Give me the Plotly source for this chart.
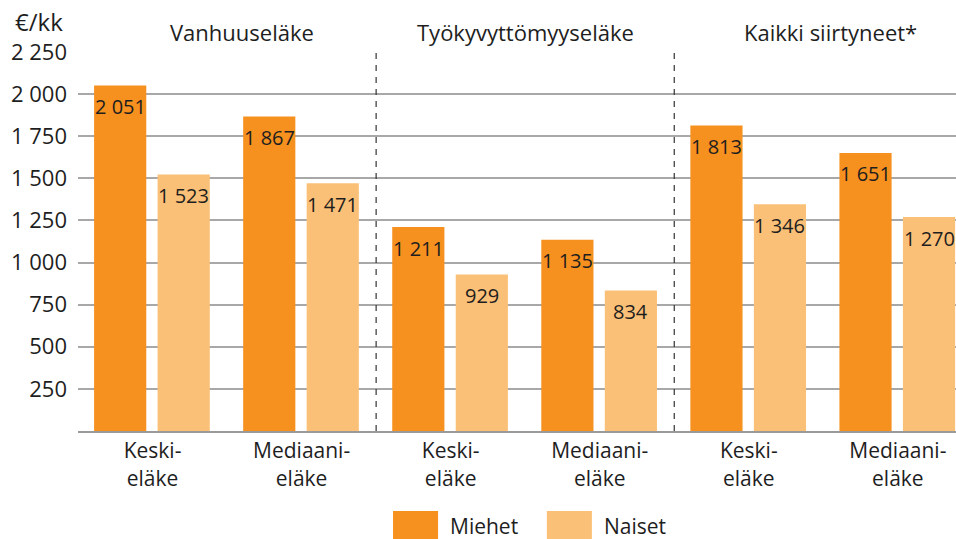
import plotly.graph_objects as go

categories = ["Keski-<br>eläke", "Mediaani-<br>eläke"] * 3
groups = ["Vanhuuseläke", "Työkyvyttömyyseläke", "Kaikki siirtyneet*"]
group_label_x = [0.6, 2.5, 4.55]
miehet = [2051, 1867, 1211, 1135, 1813, 1651]
naiset = [1523, 1471, 929, 834, 1346, 1270]
yticks = [250, 500, 750, 1000, 1250, 1500, 1750, 2000, 2250]

xpos = list(range(len(categories)))
FONT = "Open Sans"
TXT = "#1e1e1e"
C_M = "#F6901E"
C_N = "#FBC077"
BW = 0.35

fig = go.Figure()
series = [("Miehet", miehet, C_M, -0.392), ("Naiset", naiset, C_N, 0.034)]
for name, vals, col, off in series:
    fig.add_trace(go.Bar(
        x=xpos, y=vals, name=name, marker=dict(color=col, line=dict(width=0)),
        width=BW, offset=off, showlegend=False,
    ))
    for xi, v in zip(xpos, vals):
        fig.add_annotation(x=xi + off + BW / 2, y=v, xref="x", yref="y",
                           text=f"{v:,}".replace(",", " "), showarrow=False,
                           yanchor="middle", yshift=-21,
                           font=dict(family=FONT, size=20, color=TXT, weight=500))

for xs in [1.5, 3.5]:
    fig.add_shape(type="line", xref="x", yref="paper", x0=xs, x1=xs, y0=0, y1=1,
                  line=dict(color="#333333", width=1.2, dash="6px,6px"), layer="above")

for gx, g in zip(group_label_x, groups):
    fig.add_annotation(x=gx, xref="x", y=1.0, yref="paper", yshift=3,
                       text=g, showarrow=False, yanchor="bottom",
                       font=dict(family=FONT, size=22, color=TXT))

fig.add_annotation(x=-0.074, xref="paper", y=1.0, yref="paper", yshift=12,
                   text="€/kk", showarrow=False, xanchor="left", yanchor="bottom",
                   font=dict(family=FONT, size=24, color=TXT))

# legend drawn as large swatches
legend_items = [("Miehet", C_M, 0.3588), ("Naiset", C_N, 0.534)]
for name, col, lx in legend_items:
    fig.add_shape(type="rect", xref="paper", yref="paper", x0=lx, x1=lx + 0.0513,
                  y0=-0.30, y1=-0.211, fillcolor=col, line=dict(width=0))
    fig.add_annotation(x=lx + 0.0625, xref="paper", y=-0.25, yref="paper",
                       text=name, showarrow=False, xanchor="left", yanchor="middle",
                       font=dict(family=FONT, size=21, color=TXT))

fig.update_layout(
    width=956, height=539,
    margin=dict(l=78, r=0, t=52, b=108, autoexpand=False),
    paper_bgcolor="white", plot_bgcolor="white",
    separators=", ",
    barmode="overlay",
    showlegend=False,
    xaxis=dict(range=[-0.5, 5.39], tickvals=xpos, ticktext=categories, automargin=False,
               tickfont=dict(family=FONT, size=21, color=TXT),
               showgrid=False, zeroline=False, showline=True, linecolor="#9a9a9a",
               linewidth=2, ticks=""),
    yaxis=dict(range=[0, 2250], tickvals=yticks, tickformat=",", automargin=False,
               tickfont=dict(family=FONT, size=22, color=TXT), ticklabelstandoff=10,
               showgrid=True, gridcolor="#a8a8a8", gridwidth=1.5,
               zeroline=False, showline=False, ticks="", ticklen=0),
)

fig.write_html(
    "out.html",
    config={"displayModeBar": False},
    post_script="document.body.style.margin='0';document.body.style.overflow='hidden';",
)
